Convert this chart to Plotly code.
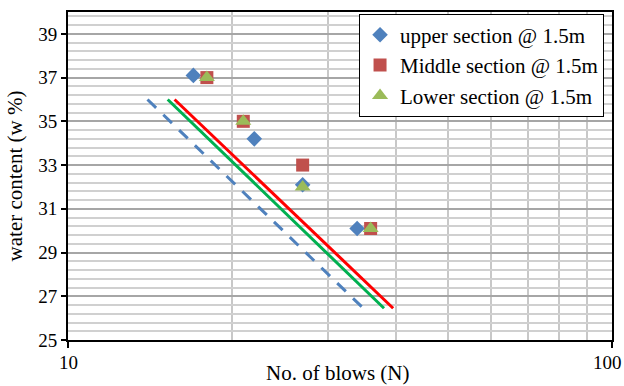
import math
import plotly.graph_objects as go

# Liquid-limit test readings: number of blows vs. water content
upper_blows = [17, 22, 27, 34]
upper_w = [37.1, 34.2, 32.1, 30.1]

middle_blows = [18, 21, 27, 36]
middle_w = [37.0, 35.0, 33.0, 30.1]

lower_blows = [18, 21, 27, 36]
lower_w = [37.0, 35.0, 32.0, 30.1]

# Flow lines (start / end of each line)
upper_line_blows = [14.0, 34.9]
middle_line_blows = [15.7, 39.6]
lower_line_blows = [15.25, 38.1]
line_w = [36.0, 26.45]

x_ticks = [10, 100]
x_grid = [20, 30, 40, 50, 60, 70, 80, 90]
y_ticks = [25, 27, 29, 31, 33, 35, 37, 39]

FONT = "Liberation Serif, Times New Roman, serif"

fig = go.Figure()

fig.add_trace(go.Scatter(
    x=upper_line_blows, y=line_w, mode="lines", showlegend=False,
    line=dict(color="#4F81BD", width=3, dash="12px,10px"), hoverinfo="skip"))
fig.add_trace(go.Scatter(
    x=lower_line_blows, y=line_w, mode="lines", showlegend=False,
    line=dict(color="#00B050", width=3), hoverinfo="skip"))
fig.add_trace(go.Scatter(
    x=middle_line_blows, y=line_w, mode="lines", showlegend=False,
    line=dict(color="#FF0000", width=3), hoverinfo="skip"))

fig.add_trace(go.Scatter(
    x=upper_blows, y=upper_w, mode="markers", name="upper section @ 1.5m",
    marker=dict(symbol="diamond", size=12, color="#4F81BD")))
fig.add_trace(go.Scatter(
    x=middle_blows, y=middle_w, mode="markers", name="Middle section @ 1.5m",
    marker=dict(symbol="square", size=13, color="#C0504D")))
fig.add_trace(go.Scatter(
    x=lower_blows, y=lower_w, mode="markers", name="Lower section @ 1.5m",
    marker=dict(symbol="triangle-up", size=14, color="#9BBB59")))

# x tick labels sit well below the axis, at the two decade ends
# (annotation x on a log axis is given in log10 units)
x_label_annotations = []
for v in x_ticks:
    last = v == x_ticks[-1]
    x_label_annotations.append(dict(
        text=str(v), x=math.log10(v), xref="x", y=-0.07, yref="paper",
        xanchor="right" if last else "center", xshift=12 if last else 0,
        yanchor="middle", showarrow=False, font=dict(family=FONT, size=19),
    ))

fig.update_layout(
    width=624, height=386,
    margin=dict(l=68, r=12, t=12, b=46),
    paper_bgcolor="white", plot_bgcolor="white",
    font=dict(family=FONT, size=19, color="black"),
    legend=dict(
        x=0.535, y=0.995, xanchor="left", yanchor="top",
        bgcolor="white", bordercolor="black", borderwidth=1,
        font=dict(family=FONT, size=21), tracegroupgap=0,
    ),
    annotations=x_label_annotations + [dict(
        text="No. of blows (N)", xref="paper", yref="paper",
        x=0.495, y=-0.10, xanchor="center", yanchor="middle",
        showarrow=False, font=dict(family=FONT, size=21),
    )],
)

fig.update_xaxes(
    type="log", range=[1, 2], automargin=False,
    tickmode="array", tickvals=x_ticks, showticklabels=False,
    ticks="outside", ticklen=6, tickcolor="black", tickwidth=1.5,
    showgrid=False, zeroline=False,
    showline=True, linecolor="black", linewidth=2, mirror=True,
    minor=dict(tickmode="array", tickvals=x_grid, showgrid=True,
               gridcolor="#C8C8C8", gridwidth=1.5, ticks=""),
)

fig.update_yaxes(
    range=[25, 40], automargin=False,
    tickmode="array", tickvals=y_ticks,
    ticks="outside", ticklen=5, tickcolor="black", tickwidth=1.5,
    showgrid=True, gridcolor="#A6A6A6", gridwidth=1.5, zeroline=False,
    showline=True, linecolor="black", linewidth=2, mirror=True,
    minor=dict(tick0=25, dtick=0.4, showgrid=True,
               gridcolor="#D0D0D0", gridwidth=1.5, ticks=""),
    title=dict(text="water content (w %)", font=dict(size=21), standoff=10),
)

fig.write_html("out.html")
